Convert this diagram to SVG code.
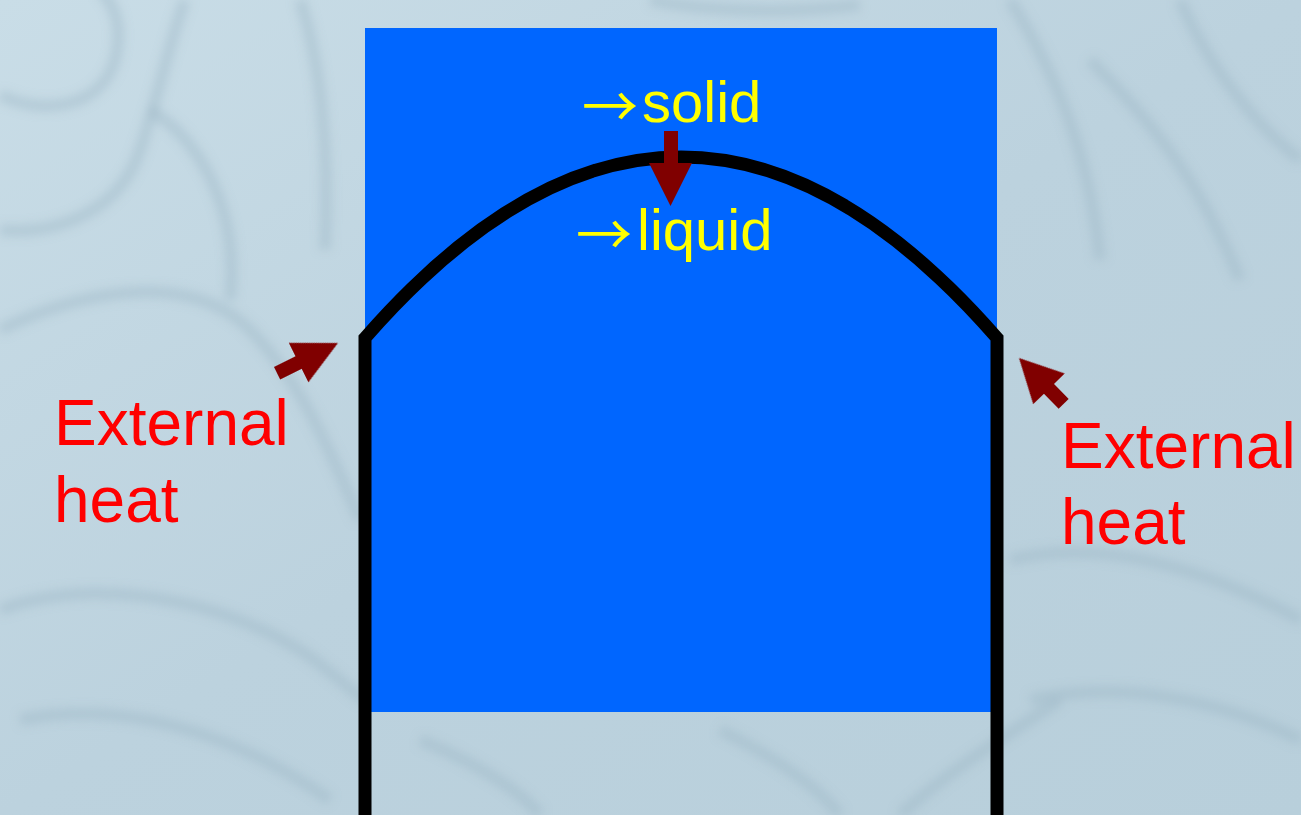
<svg xmlns="http://www.w3.org/2000/svg" width="1301" height="815" viewBox="0 0 1301 815">
  <style>
    .swirl { fill: none; stroke: #9cb5c4; stroke-width: 12; opacity: 0.4; }
    .heat { fill: #800000; }
    .lbl { font-family: "Liberation Sans", Arial, sans-serif; fill: #ff0000; font-size: 64px; }
    .phase { font-family: "Liberation Sans", Arial, sans-serif; fill: #ffff00; font-size: 58px; }
    .arr { font-family: "Noto Sans CJK SC", "DejaVu Sans", sans-serif; font-size: 56px; }
  </style>
  <defs>
    <linearGradient id="bg" x1="0" y1="0" x2="1" y2="1">
      <stop offset="0" stop-color="#c9dde7"/>
      <stop offset="0.5" stop-color="#bcd2de"/>
      <stop offset="1" stop-color="#b8cfdb"/>
    </linearGradient>
    <filter id="blur" x="-10%" y="-10%" width="120%" height="120%">
      <feGaussianBlur stdDeviation="5"/>
    </filter>
  </defs>

  <!-- background -->
  <rect x="0" y="0" width="1301" height="815" fill="url(#bg)"/>
  <g id="texture" filter="url(#blur)">
    <path class="swirl" d="M0,95 C40,115 100,110 115,60 C125,20 110,0 100,-10"/>
    <path class="swirl" d="M0,230 C60,235 120,210 140,150 C160,90 170,40 185,0"/>
    <path class="swirl" d="M150,110 C200,140 240,210 230,300"/>
    <path class="swirl" d="M0,330 C80,290 190,270 250,330 C300,380 330,450 360,520"/>
    <path class="swirl" d="M0,610 C80,580 200,590 300,650 C330,670 350,690 365,700"/>
    <path class="swirl" d="M20,720 C120,700 230,730 330,800"/>
    <path class="swirl" d="M300,0 C320,60 330,150 325,250"/>
    <path class="swirl" d="M1010,0 C1060,80 1090,160 1100,260"/>
    <path class="swirl" d="M1090,60 C1150,120 1200,180 1240,280"/>
    <path class="swirl" d="M1180,0 C1210,70 1260,130 1301,160"/>
    <path class="swirl" d="M1010,560 C1090,540 1190,560 1301,620"/>
    <path class="swirl" d="M1030,700 C1120,680 1220,700 1301,740"/>
    <path class="swirl" d="M420,740 C470,760 520,790 540,815"/>
    <path class="swirl" d="M720,730 C780,760 820,790 840,815"/>
    <path class="swirl" d="M900,815 C950,770 1000,740 1060,700"/>
    <path class="swirl" d="M650,0 C700,10 780,15 860,5"/>
  </g>

  <!-- liquid / blue region -->
  <g id="liquid">
    <rect x="365" y="28" width="632" height="684" fill="#0066ff"/>
  </g>

  <!-- container outline with arched top -->
  <g id="container">
    <path d="M365,815 L365,338 Q681,-24 997,338 L997,815" fill="none" stroke="#000000" stroke-width="13" stroke-linejoin="miter"/>
  </g>

  <!-- phase labels -->
  <g id="label-solid">
    <text class="phase" y="122"><tspan class="arr" x="582" dy="5">→</tspan><tspan x="642" dy="-5">solid</tspan></text>
  </g>
  <g id="label-liquid">
    <text class="phase" y="250"><tspan class="arr" x="576" dy="5">→</tspan><tspan x="637" dy="-5">liquid</tspan></text>
  </g>

  <!-- arrows -->
  <g id="connectors">
    <polygon class="heat" points="664,131 678,131 678,163 692,163 670.5,206 649,163 664,163"/>
    <polygon class="heat" transform="translate(338,343) rotate(-26.4)" points="0,0 -44,-22 -44,-7 -68,-7 -68,7 -44,7 -44,22"/>
    <polygon class="heat" transform="translate(1019,358) rotate(225.8)" points="0,0 -43,-22 -43,-7 -64,-7 -64,7 -43,7 -43,22"/>
  </g>

  <!-- external heat labels -->
  <g id="heat-left">
    <text class="lbl" x="54" y="445">External</text>
    <text class="lbl" x="54" y="522">heat</text>
  </g>
  <g id="heat-right">
    <text class="lbl" x="1061" y="468">External</text>
    <text class="lbl" x="1061" y="544">heat</text>
  </g>
</svg>
